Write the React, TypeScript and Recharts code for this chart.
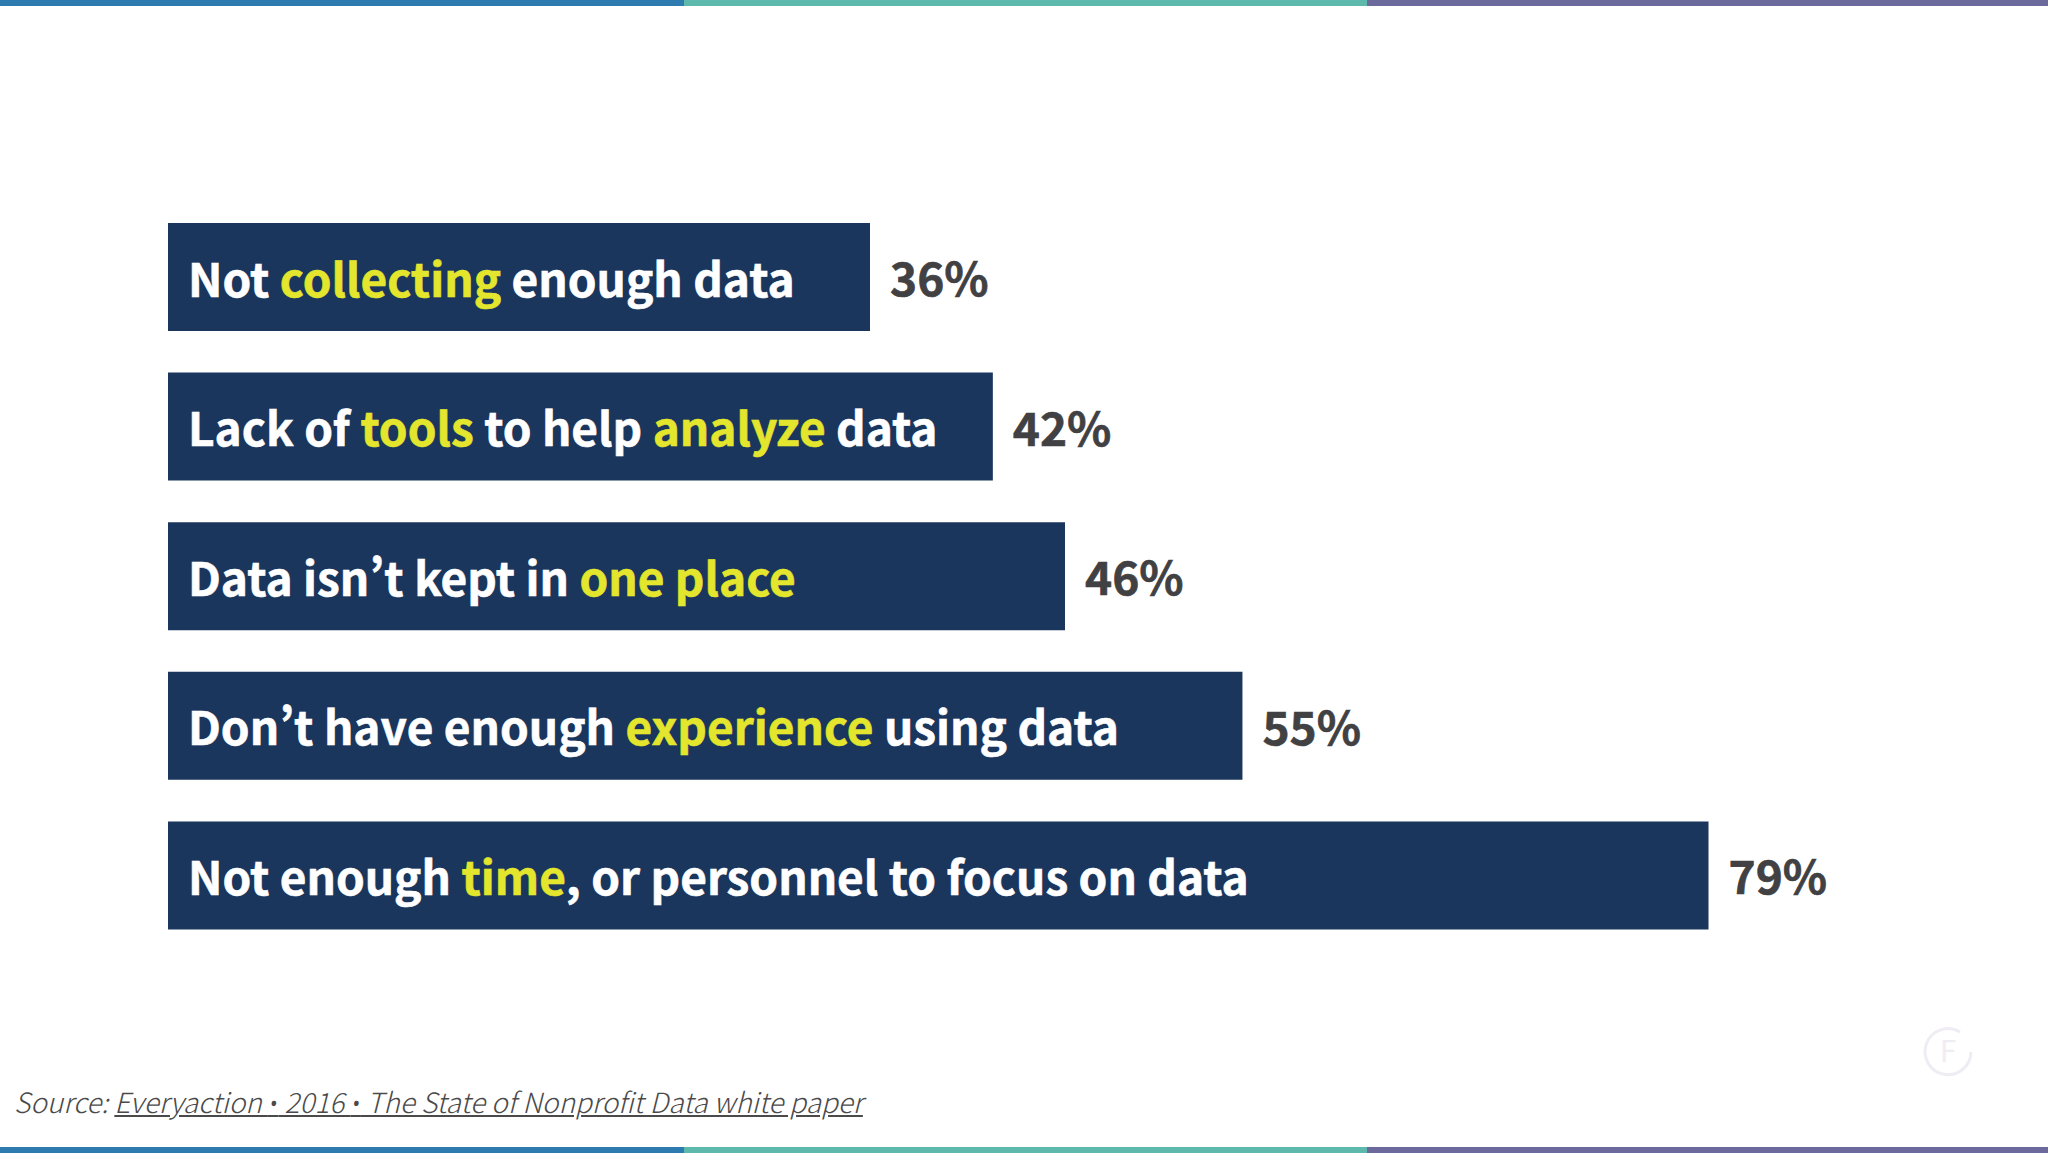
import React from "react";
import { BarChart, Bar, XAxis, YAxis, LabelList } from "recharts";

const categories = [
  "Not collecting enough data",
  "Lack of tools to help analyze data",
  "Data isn\u2019t kept in one place",
  "Don\u2019t have enough experience using data",
  "Not enough time, or personnel to focus on data",
];
const highlights = [["collecting"], ["tools", "analyze"], ["one place"], ["experience"], ["time"]];
const values = [36, 42.3, 46, 55.1, 79];
const valueLabels = ["36%", "42%", "46%", "55%", "79%"];
const stripeColors = ["#2e7bb0", "#5cb9ac", "#6c6a9c"];
const sourcePrefix = "Source: ";
const sourceLinkParts = ["Everyaction ", " 2016 ", " The State of Nonprofit Data white paper"];

const rows = categories.map((category, i) => ({ category, value: values[i] }));
const FONT = '"Noto Sans CJK SC", "Noto Sans", sans-serif';

function splitSegments(text: string, marks: string[]) {
  const pattern = new RegExp("(" + marks.join("|") + ")");
  return text.split(pattern).filter(Boolean).map((t) => ({ t, hi: marks.includes(t) }));
}

function RichLabel(props: any) {
  const { x, y, height, index } = props;
  const segs = splitSegments(categories[index], highlights[index]);
  return (
    <text x={x + 20} y={y + height / 2 + 19.5} fontFamily={FONT} fontWeight={700} fontSize={46} style={{ whiteSpace: "pre", fontFeatureSettings: '"pwid"' }}>
      {segs.map((s, i) => (
        <tspan key={i} fill={s.hi ? "#e3e62d" : "#ffffff"} stroke={s.hi ? "#e3e62d" : "#ffffff"} strokeWidth={0.6}>{s.t}</tspan>
      ))}
    </text>
  );
}

function ValueLabel(props: any) {
  const { x, y, width, height, index } = props;
  return (
    <text x={x + width + 20} y={y + height / 2 + 19} fontFamily={FONT} fontWeight={700} fontSize={46} fill="#414042" stroke="#414042" strokeWidth={0.6}>
      {valueLabels[index]}
    </text>
  );
}

export default function App() {
  return (
    <div style={{ position: "absolute", left: 0, top: 0, width: 2048, height: 1153, background: "#ffffff", overflow: "hidden" }}>
      {stripeColors.map((c, i) => (
        <React.Fragment key={c}>
          <div style={{ position: "absolute", left: i * 683.5, top: 0, width: 684, height: 6, background: c }} />
          <div style={{ position: "absolute", left: i * 683.5, top: 1147, width: 684, height: 6, background: c }} />
        </React.Fragment>
      ))}
      <div style={{ position: "absolute", left: 0, top: 0 }}>
        <BarChart
          width={2048}
          height={1153}
          data={rows}
          layout="vertical"
          margin={{ left: 168, right: 125, top: 202, bottom: 203 }}
        >
          <XAxis type="number" domain={[0, 90]} hide />
          <YAxis type="category" dataKey="category" hide />
          <Bar dataKey="value" fill="#1b365d" barSize={108} isAnimationActive={false}>
            <LabelList dataKey="category" content={<RichLabel />} />
            <LabelList dataKey="value" content={<ValueLabel />} />
          </Bar>
        </BarChart>
      </div>
      <div
        style={{
          position: "absolute", left: 14, top: 1081, fontFamily: FONT, fontWeight: 300, fontStyle: "italic",
          fontSize: 27.9, lineHeight: "40px", color: "#4a4a4a", whiteSpace: "pre", fontFeatureSettings: '"pwid"',
        }}
      >
        {sourcePrefix}
        <span style={{ textDecoration: "underline" }}>
          {sourceLinkParts.map((part, i) => (
            <React.Fragment key={i}>
              {i > 0 && <span style={{ fontFamily: '"Noto Sans", sans-serif' }}>{"\u2022"}</span>}
              {part}
            </React.Fragment>
          ))}
        </span>
      </div>
      <svg style={{ position: "absolute", left: 1920, top: 1024 }} width={56} height={56}>
        <path d="M 40 8 A 23 23 0 1 0 51 28" fill="none" stroke="#efedf3" strokeWidth={3} />
        <text x={28} y={38} textAnchor="middle" fontFamily={FONT} fontWeight={400} fontSize={30} fill="#efedf3">F</text>
      </svg>
    </div>
  );
}
